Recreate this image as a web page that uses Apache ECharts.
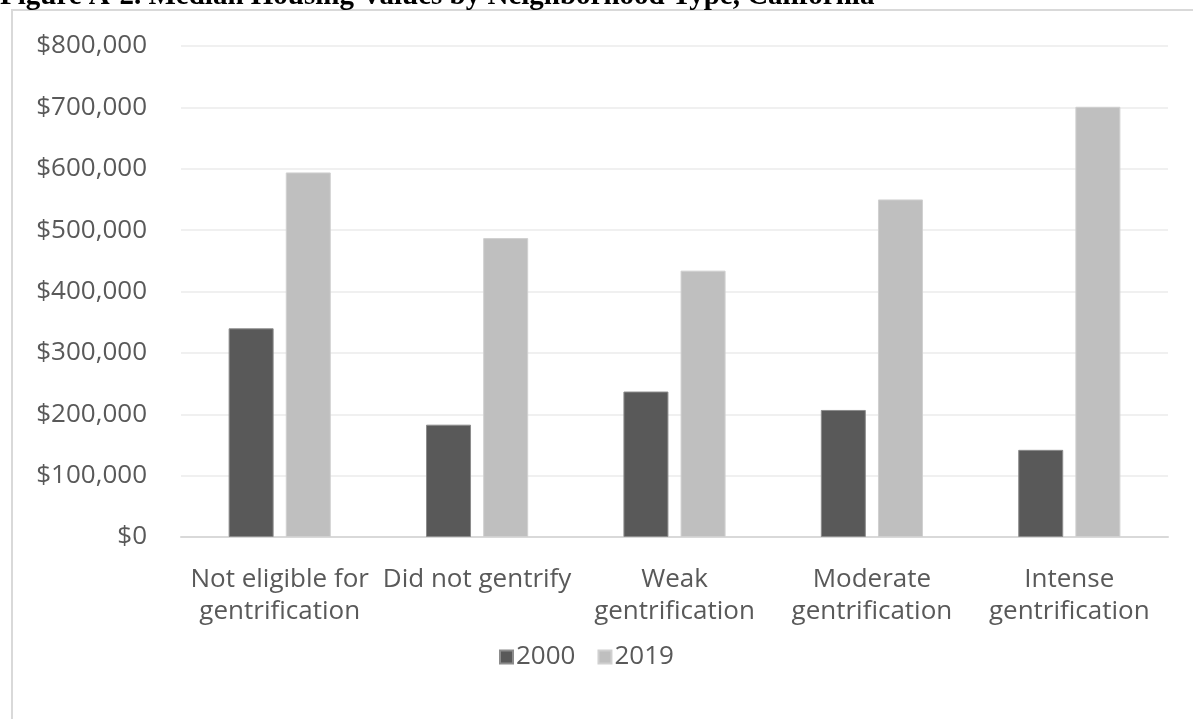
<!DOCTYPE html>
<html>
<head>
<meta charset="utf-8">
<title>Median Housing Values by Neighborhood Type, California</title>
<script src="https://cdn.jsdelivr.net/npm/echarts@6/dist/echarts.min.js"></script>
<style>
  html, body { margin: 0; padding: 0; background: #ffffff; }
  #chart { width: 1193px; height: 719px; }
</style>
</head>
<body>
<div id="chart"></div>
<script>
// Neighborhood types along the x axis
const categories = [
  'Not eligible for\ngentrification',
  'Did not gentrify',
  'Weak\ngentrification',
  'Moderate\ngentrification',
  'Intense\ngentrification'
];
// Median housing values (USD)
const values2000 = [340000, 183000, 237000, 207000, 142000];
const values2019 = [594000, 487000, 434000, 550000, 701000];
const seriesNames = ['2000', '2019'];

const chart = echarts.init(document.getElementById('chart'), null, { renderer: 'canvas' });

const labelFont = '"Open Sans", "Liberation Sans", sans-serif';
const money = v => '$' + v.toLocaleString('en-US');

chart.setOption({
  backgroundColor: '#ffffff',
  animation: false,
  graphic: [
    {
      type: 'rect',
      shape: { x: 12, y: 10, width: 1400, height: 900 },
      style: { fill: 'none', stroke: '#d9d9d9', lineWidth: 2 },
      silent: true
    },
    {
      type: 'text',
      left: 0,
      top: -18,
      style: {
        text: 'Figure A-2. Median Housing Values by Neighborhood Type, California',
        font: 'bold 29px "Liberation Serif", "Times New Roman", serif',
        fill: '#000000'
      },
      silent: true
    }
  ],
  grid: { left: 181, right: 25, top: 46, bottom: 182, containLabel: false },
  legend: {
    data: seriesNames,
    left: 494,
    top: 639,
    itemWidth: 13,
    itemHeight: 13,
    itemGap: 22,
    icon: 'rect',
    textStyle: { fontFamily: labelFont, fontSize: 26, color: '#595959', padding: [0, 0, 0, -2] }
  },
  xAxis: {
    type: 'category',
    data: categories,
    axisLine: { show: true, lineStyle: { color: '#d9d9d9', width: 2 } },
    axisTick: { show: false },
    axisLabel: {
      interval: 0,
      margin: 27,
      fontFamily: labelFont,
      fontSize: 26,
      lineHeight: 32,
      color: '#595959'
    }
  },
  yAxis: {
    type: 'value',
    min: 0,
    max: 800000,
    interval: 100000,
    axisLine: { show: false },
    axisTick: { show: false },
    splitLine: { lineStyle: { color: '#f0f0f0', width: 2 } },
    axisLabel: {
      margin: 34,
      fontFamily: labelFont,
      fontSize: 26,
      color: '#595959',
      formatter: money
    }
  },
  series: [
    {
      name: seriesNames[0],
      type: 'bar',
      data: values2000,
      barWidth: 45,
      barGap: '27%',
      itemStyle: { color: '#595959', borderColor: '#8c8c8c', borderWidth: 1 }
    },
    {
      name: seriesNames[1],
      type: 'bar',
      data: values2019,
      barWidth: 45,
      barGap: '27%',
      itemStyle: { color: '#bfbfbf', borderColor: '#d0d0d0', borderWidth: 1 }
    }
  ]
});
</script>
</body>
</html>
